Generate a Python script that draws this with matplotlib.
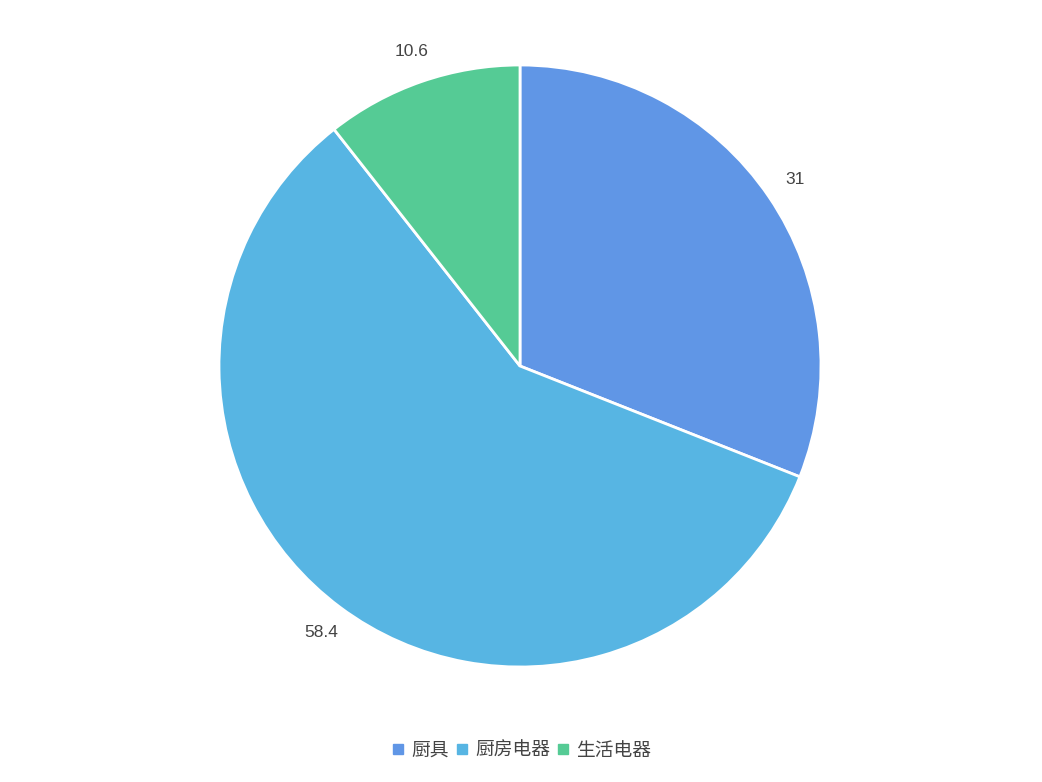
import matplotlib
matplotlib.use("Agg")
import matplotlib.pyplot as plt
from matplotlib.lines import Line2D

plt.rcParams['font.family'] = ['Liberation Sans', 'Noto Sans CJK SC', 'DejaVu Sans']

# 数据
categories = ["厨具", "厨房电器", "生活电器"]
values = [31, 58.4, 10.6]
colors = ["#6096E6", "#57B5E3", "#55CB95"]

W, H = 1042, 782
fig = plt.figure(figsize=(W / 100, H / 100), dpi=100)
ax = fig.add_axes([0, 0, 1, 1])

cx, cy, r = 520, H - 366, 301

wedges, texts = ax.pie(values,
                       labels=[str(v) for v in values],
                       colors=colors,
                       startangle=90,
                       counterclock=False,
                       center=(cx, cy),
                       radius=r,
                       labeldistance=1.105,
                       wedgeprops=dict(edgecolor="white", linewidth=2),
                       textprops=dict(fontsize=12.5, color="#444444"),
                       frame=True)
ax.set_xlim(0, W)
ax.set_ylim(0, H)
ax.set_aspect("equal")
ax.axis("off")
for t in texts:
    t.set_horizontalalignment("center")
    t.set_verticalalignment("center")

# 图例
handles = [Line2D([0], [0], marker="s", linestyle="", markersize=7,
                  markerfacecolor=c, markeredgecolor=c) for c in colors]
fig.legend(handles, categories, loc="center", bbox_to_anchor=(0.5, 1 - 751 / H),
           ncol=3, frameon=False, fontsize=13.5, handlelength=0.8,
           handletextpad=0.3, columnspacing=0.3, labelcolor="#444444")

fig.savefig("out.png", dpi=100)
